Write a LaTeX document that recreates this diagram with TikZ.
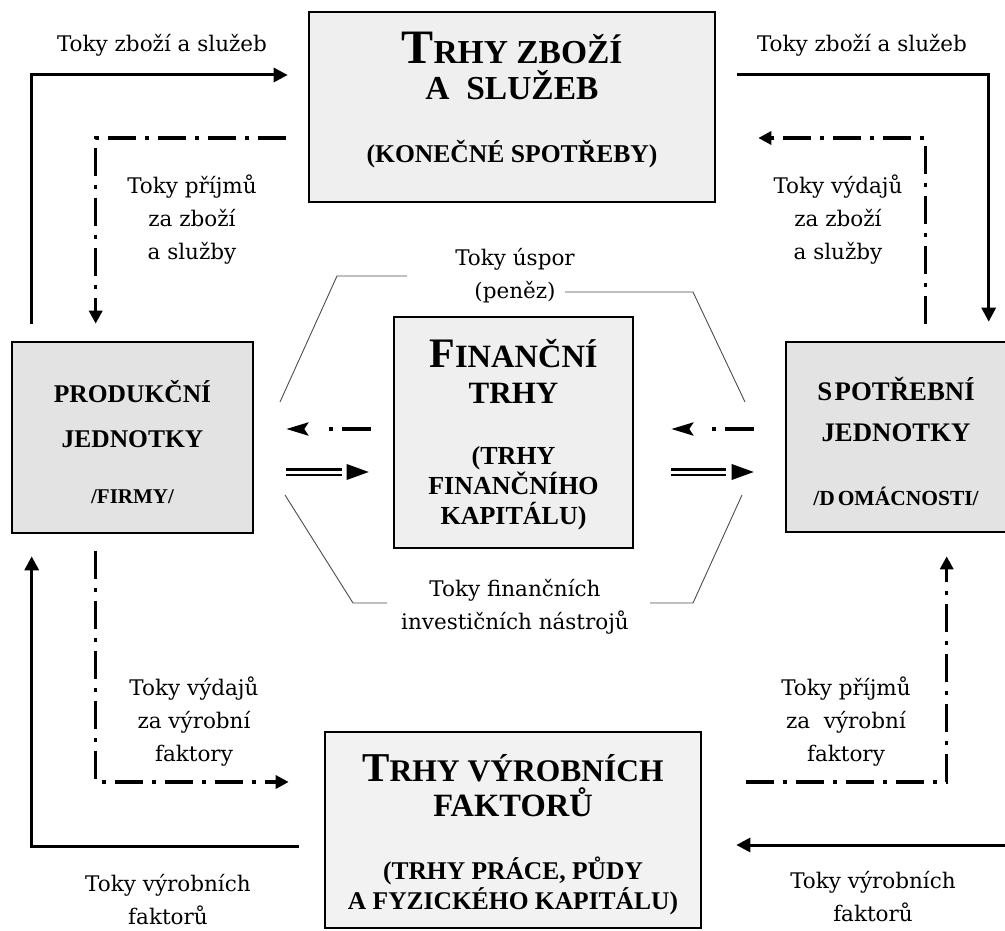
\documentclass[tikz,border=0pt]{standalone}
\usepackage{fontspec}
\setmainfont{Liberation Serif}
\newfontfamily\labfont{DejaVu Serif}
\usetikzlibrary{arrows.meta,calc}
\definecolor{boxlight}{HTML}{EFEFEF}
\definecolor{boxdark}{HTML}{E3E3E3}
\definecolor{boxpale}{HTML}{F2F2F2}
\newcommand{\fs}[2]{\fontsize{#1}{#2}\selectfont}
\begin{document}
\begin{tikzpicture}[x=1pt,y=-1pt,
  box/.style={draw, line width=2.6pt, rectangle, align=center, inner sep=0pt},
  lab/.style={align=center, inner sep=0pt, font=\labfont\fontsize{21.5}{33}\selectfont},
  flow/.style={line width=3pt, -{Triangle[length=14pt,width=14pt]}},
  money/.style={line width=3.5pt, dash pattern=on 28pt off 9pt on 4pt off 9pt, -{Triangle[length=13pt,width=13pt]}},
  back/.style={line width=3.5pt, dash pattern=on 29pt off 9pt on 4pt off 60pt, -{Stealth[length=22pt,width=13pt,inset=4pt]}},
  dbl/.style={double, line width=2.5pt, double distance=3pt},
  thinline/.style={line width=0.9pt, black!70}
]
\useasboundingbox (0,0) rectangle (1005,931);

% boxes
\node[box, fill=boxlight, minimum width=406pt, minimum height=190pt,
      font=\bfseries\fs{33.5}{36}] (top) at (512,107)
  {{\fs{48}{36}T}{\fs{33.5}{36}RHY ZBOŽÍ}\\
   {\fs{33.5}{36}A\ \ SLUŽEB}\\[27pt]
   {\fs{25.6}{36}(KONEČNÉ SPOTŘEBY)\rule[-19.5pt]{0pt}{0pt}}};

\node[box, fill=boxdark, minimum width=241pt, minimum height=191pt,
      font=\bfseries\fs{25.5}{45}] (left) at (132.5,437.5)
  {\rule{0pt}{30.5pt}PRODUKČNÍ\\
   JEDNOTKY\\[11pt]
   {\fs{21}{45}/FIRMY/}};

\node[box, fill=boxlight, minimum width=239pt, minimum height=231pt,
      font=\bfseries\fs{26}{30}] (fin) at (513.5,432.5)
  {\rule{0pt}{33.5pt}{\fs{42}{30}F}{\fs{32.5}{30}INANČNÍ}\\[6pt]
   {\fs{31}{30}TRHY}\\[31pt]
   (TRHY\\
   FINANČNÍHO\\
   KAPITÁLU)};

\node[box, fill=boxdark, minimum width=220pt, minimum height=190pt,
      font=\bfseries\fs{26.8}{41}] (right) at (896,437)
  {\rule{0pt}{31.5pt}S\kern2.5pt POTŘEBNÍ\\
   JEDNOTKY\\[23pt]
   {\fs{21.5}{41}/D\kern3pt OMÁCNOSTI/}};

\node[box, fill=boxpale, minimum width=376pt, minimum height=196pt,
      font=\bfseries\fs{25.5}{30}] (bottom) at (513,830)
  {\rule{0pt}{37.3pt}{\fs{41}{30}T}{\fs{31.5}{30}RHY VÝROBNÍCH}\\[5pt]
   {\fs{32.5}{30}FAKTORŮ}\\[33pt]
   (TRHY PRÁCE, PŮDY\\
   A FYZICKÉHO KAPITÁLU)};

% labels
\node[lab] (lTL) at (162,45) {Toky zboží a služeb};
\node[lab] (lTR) at (862,45) {Toky zboží a služeb};
\node[lab] (lIL) at (192,220) {Toky příjmů\\za zboží\\a služby};
\node[lab] (lIR) at (838,220) {Toky výdajů\\za zboží\\a služby};
\node[lab] (lS)  at (515,276) {Toky úspor\\(peněz)};
\node[lab] (lF)  at (515,607) {Toky finančních\\investičních nástrojů};
\node[lab] (lEL) at (194,722) {Toky výdajů\\za výrobní\\faktory};
\node[lab] (lER) at (846,722) {Toky příjmů\\za\ \ výrobní\\faktory};
\node[lab] (lPL) at (168,900) {Toky výrobních\\faktorů};
\node[lab] (lPR) at (873,897) {Toky výrobních\\faktorů};

% goods and services
\draw[flow] ([xshift=21pt,yshift=17pt]left.north west) |- ([xshift=-20pt,yshift=32pt]top.west);
\draw[money] ([xshift=-22pt,yshift=-31pt]top.west) -| ([xshift=85pt,yshift=17pt]left.north west);
\draw[flow] ([xshift=21pt,yshift=32pt]top.east) -| ([xshift=204pt,yshift=19pt]right.north west);
\draw[money] ([xshift=141pt,yshift=17pt]right.north west) |- ([xshift=42pt,yshift=-31pt]top.east);

% factors of production
\draw[flow] ([xshift=-25pt,yshift=-16pt]bottom.west) -| ([xshift=21pt,yshift=-22pt]left.south west);
\draw[money] ([xshift=85pt,yshift=-17pt]left.south west) |- ([xshift=-35pt,yshift=48pt]bottom.west);
\coordinate (edgeR) at (1005,845);
\draw[flow] (edgeR) -- ([xshift=34pt,yshift=-15pt]bottom.east);
\draw[money] ([xshift=44pt,yshift=48pt]bottom.east) -| ([xshift=162pt,yshift=-23pt]right.south west);

% financial flows
\draw[back] ([xshift=-22pt,yshift=3.5pt]fin.west) -- ([xshift=32pt,yshift=8.5pt]left.east);
\draw[dbl] ([xshift=32pt,yshift=-34.5pt]left.east) -- ([xshift=-51pt,yshift=-39.5pt]fin.west);
\fill ([xshift=-24pt,yshift=-39.5pt]fin.west) -- ++(-22,-8) -- ++(0,16) -- cycle;
\draw[back] ([xshift=-31pt,yshift=8pt]right.west) -- ([xshift=37pt,yshift=3.5pt]fin.east);
\draw[dbl] ([xshift=37pt,yshift=-39.5pt]fin.east) -- ([xshift=-59pt,yshift=-35pt]right.west);
\fill ([xshift=-31pt,yshift=-35pt]right.west) -- ++(-22,-8) -- ++(0,16) -- cycle;

% brackets
\draw[thinline] (407,276) -- (337,276) -- (280,402);
\draw[thinline] (565,292) -- (693,292) -- (745,402);
\draw[thinline] (285,495) -- (353,603) -- (387,603);
\draw[thinline] (650,603) -- (693,603) -- (742,495);
\end{tikzpicture}
\end{document}
